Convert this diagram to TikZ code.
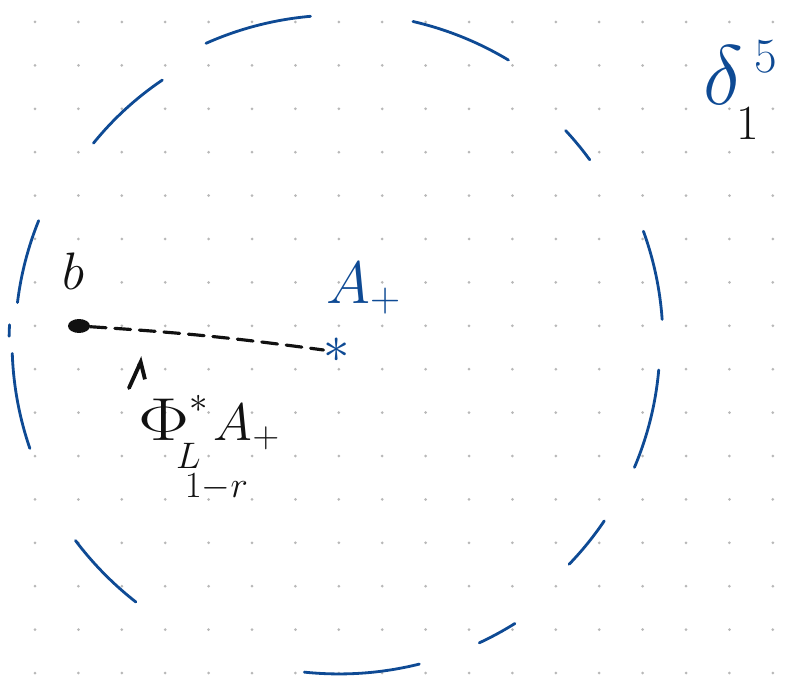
\RequirePackage{fix-cm}
\documentclass[tikz,border=0pt]{standalone}
\usepackage{xcolor}
\definecolor{cInk}{HTML}{0E4A94}
\definecolor{cPen}{HTML}{111111}
\definecolor{cDot}{HTML}{B8B8B8}
\usepackage{tikz}
\usetikzlibrary{arrows.meta,calc,shapes.geometric}
\tikzset{
  grid-dot/.style={fill=cDot},
  ball-dash/.style={draw=cInk,line width=1.6pt,line cap=round},
  pt-dot/.style={fill=cPen,ellipse,inner sep=0pt,
    minimum width=0.44cm,minimum height=0.28cm},
  lbl-pen/.style={text=cPen,inner sep=0pt,font=\fontsize{30}{32}\selectfont},
  lbl-ink/.style={text=cInk,inner sep=0pt,font=\fontsize{34}{36}\selectfont},
  lbl-small/.style={inner sep=0pt,font=\fontsize{28}{30}\selectfont},
  lbl-star/.style={text=cInk,inner sep=0pt,font=\fontsize{30}{30}\selectfont},
  link-dashed/.style={draw=cPen,line width=1.8pt,line cap=round,
    dash pattern=on 9pt off 5pt},
  arrow-hint/.style={-{Straight Barb[right,length=2.8mm,width=4.4mm]},
    draw=cPen,line width=2.2pt,line cap=round},
}

\begin{document}
\begin{tikzpicture}[x=0.02cm,y=0.02cm]
  \useasboundingbox (0,0) rectangle (790,680);
  % dotted paper
  \foreach \i in {0,...,17}
    \foreach \j in {0,...,15}
      \fill[grid-dot] (35+43.4*\i,658-43.4*\j) circle (0.03cm);
  % the ball, broken into strokes
  \coordinate (ctr) at (339,338);
  \foreach \aS/\aE/\rad in {95/114/6.54, 59/77/6.58, 124/141/6.32,
      36/43/6.2, 158/173/6.48, 177/179/6.6, 182/199/6.54, 4/20/6.48,
      -23/-5/6.42, -44/-34/6.4, 217/232/6.6, -65/-58/6.64, 264/284/6.64}
    \draw[ball-dash] ($(ctr)+(\aS:\rad cm)$)
      arc[start angle=\aS,end angle=\aE,radius=\rad cm];

  \node[pt-dot]                     (b)         at (79,354)  {};
  \node[lbl-pen,anchor=base west]   (b-lbl)     at (62,390)  {$b$};
  \node[lbl-star]                   (aplus)     at (337,330) {$\ast$};
  \node[lbl-ink,anchor=base west]   (aplus-lbl) at (326,377) {$A_{+}$};
  % ball label, pieces set apart as written
  \node[lbl-ink,anchor=base west,font=\fontsize{48}{50}\selectfont]
                                    (ball-lbl)  at (703,575) {$\delta$};
  \node[lbl-small,text=cInk,anchor=base west] (ball-dim) at (754,607) {$5$};
  \node[lbl-small,text=cPen,anchor=base west] (ball-rad) at (736,540) {$1$};
  \node[lbl-pen,anchor=base west]   (pull-lbl)  at (138,240)
    {$\scalebox{1.45}[1.15]{$\Phi$}^{\ast}_{\rlap{\hspace{-0.25em}\raisebox{-9pt}{$\scriptstyle
       L_{\hspace{-0.3em}\raisebox{-13pt}{$\scriptstyle 1-r$}}$}}}
     \kern3pt A_{+}$};
  \coordinate (hint-tail) at (129,292);
  \coordinate (hint-tip)  at (143,323);

  \draw[link-dashed] (b) to[bend left=2] (aplus.west);
  \draw[arrow-hint] (hint-tail) -- (hint-tip);
\end{tikzpicture}
\end{document}
